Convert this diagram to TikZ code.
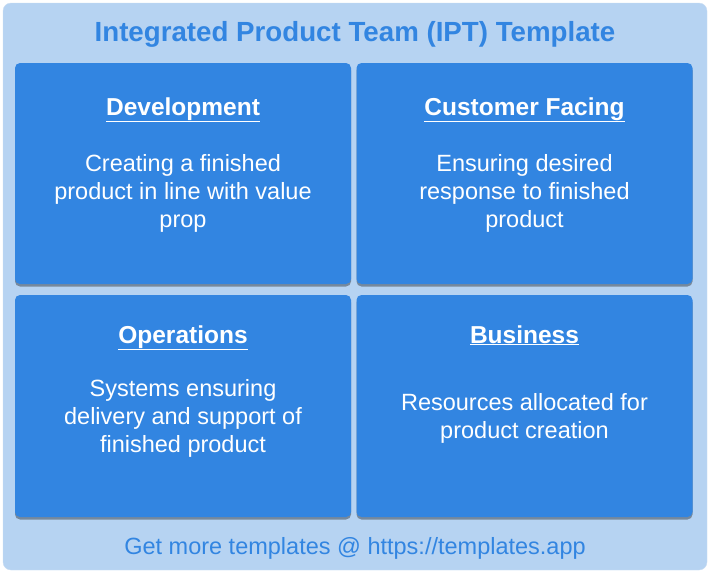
\documentclass[tikz,border=0pt]{standalone}
\usepackage{fontspec}
\setmainfont{Liberation Sans}
\usetikzlibrary{shadows}
\definecolor{iptblue}{HTML}{3285E1}
\definecolor{iptpale}{HTML}{B6D3F2}
\definecolor{iptedge}{HTML}{CADDF3}
\begin{document}
\begin{tikzpicture}[x=1pt,y=-1pt,
  card/.style={fill=iptblue,rounded corners=5pt,minimum width=336pt,minimum height=221pt,
    drop shadow={shadow xshift=0pt,shadow yshift=-2.5pt,opacity=0.35,fill=black}},
  cardhead/.style={anchor=base,text=white,font=\bfseries\fontsize{24.5}{28}\selectfont},
  cardbody/.style={anchor=base,text=white,align=center,font=\fontsize{23.5}{28}\selectfont},
  banner/.style={anchor=base,text=iptblue}]
  \useasboundingbox (0,0) rectangle (710,573);
  % Frame
  \draw[iptedge,fill=iptpale,rounded corners=8pt] (3,3) rectangle (707,570);
  \node[banner,font=\bfseries\fontsize{27.7}{32}\selectfont] (title) at (355,41) {Integrated Product Team (IPT) Template};
  % Four cards
  \node[card] (dev) at (183,173.5) {};
  \node[card] (cust) at (524.5,173.5) {};
  \node[card,minimum height=222pt] (ops) at (183,406) {};
  \node[card,minimum height=222pt] (bus) at (524.5,406) {};
  % Card texts (body base = last line)
  \node[cardhead] (devhead) at (183,115) {\underline{Development}};
  \node[cardbody] (devbody) at (183,227) {Creating a finished\\product in line with value\\prop};
  \node[cardhead] (custhead) at (524.5,115) {\underline{Customer Facing}};
  \node[cardbody] (custbody) at (524.5,227) {Ensuring desired\\response to finished\\product};
  \node[cardhead] (opshead) at (183,343) {\underline{Operations}};
  \node[cardbody] (opsbody) at (183,452) {Systems ensuring\\delivery and support of\\finished product};
  \node[cardhead] (bushead) at (524.5,343) {\underline{Business}};
  \node[cardbody] (busbody) at (524.5,438) {Resources allocated for\\product creation};
  % Footer
  \node[banner,font=\fontsize{23.5}{28}\selectfont] (foot) at (355,554) {Get more templates @ https://templates.app};
\end{tikzpicture}
\end{document}
